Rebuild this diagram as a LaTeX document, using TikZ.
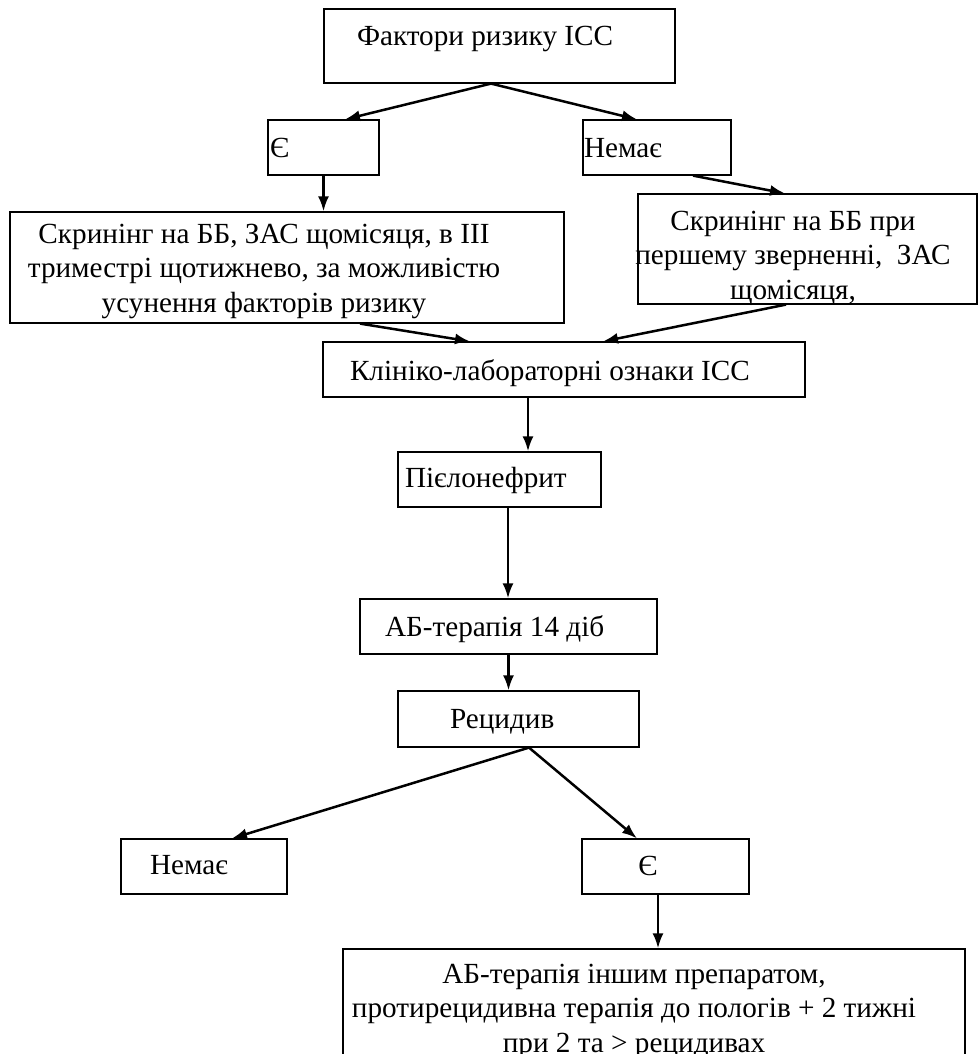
\documentclass[tikz,border=0pt]{standalone}
\usepackage{fontspec}
\setmainfont{Liberation Serif}
\usetikzlibrary{arrows.meta}
\newcommand\bL[3]{\raisebox{#2}[0pt][0pt]{\makebox[0pt][l]{\hspace*{#1}#3}}}
\newcommand\bC[3]{\raisebox{#2}[0pt][0pt]{\makebox[0pt][c]{\hspace*{#1}\hspace*{#1}#3}}}
\newcommand\ml[1]{\begin{tabular}[t]{@{}c@{}}#1\end{tabular}}
\tikzset{
  box/.style={draw=black, line width=1.2pt, inner sep=0pt, font=\fontsize{29.2}{34.5}\selectfont},
  arr/.style={line width=2.5pt, -{Latex[length=15pt,width=11pt]}}
}
\begin{document}
\begin{tikzpicture}[x=1pt,y=-1pt]
\useasboundingbox (0,0) rectangle (978,1054);
\clip (0,0) rectangle (978,1054);
\node[box, minimum width=351pt, minimum height=74pt] (top) at (499.5,46) {\bL{-142.5pt}{0pt}{Фактори ризику ІСС}};
\node[box, minimum width=111pt, minimum height=55pt] (ye1) at (323.5,147.5) {\bL{-53.5pt}{-9.5pt}{Є}};
\node[box, minimum width=148pt, minimum height=55pt] (ne1) at (657,147.5) {\bL{-73pt}{-9.5pt}{Немає}};
\node[box, minimum width=554pt, minimum height=111pt] (scrL) at (287,267.5) {\bC{-23pt}{24.5pt}{\ml{Скринінг на ББ, ЗАС щомісяця, в ІІІ\\триместрі щотижнево, за можливістю\\усунення факторів ризику}}};
\node[box, minimum width=339pt, minimum height=110pt] (scrR) at (807.5,249) {\bC{-14.5pt}{19pt}{\ml{Скринінг на ББ при\\першему зверненні, \ ЗАС\\щомісяця,}}};
\node[box, minimum width=482pt, minimum height=55pt] (klin) at (564,369.5) {\bL{-214pt}{-10.5pt}{Клініко-лабораторні ознаки ІСС}};
\node[box, minimum width=203pt, minimum height=55pt] (piel) at (499.5,479.5) {\bL{-94.5pt}{-7.5pt}{Пієлонефрит}};
\node[box, minimum width=297pt, minimum height=55pt] (ab) at (508.5,626.5) {\bL{-123.5pt}{-10pt}{АБ-терапія 14 діб}};
\node[box, minimum width=241pt, minimum height=56pt] (rec) at (518.5,719) {\bL{-68.5pt}{-9.5pt}{Рецидив}};
\node[box, minimum width=166pt, minimum height=55pt] (ne2) at (204,866.5) {\bL{-54pt}{-7.5pt}{Немає}};
\node[box, minimum width=167pt, minimum height=55pt] (ye2) at (665.5,866.5) {\bC{-17.5pt}{-8.5pt}{Є}};
\node[box, minimum width=622pt, minimum height=120pt] (fin) at (654,1009) {\bC{-20pt}{26pt}{\ml{АБ-терапія іншим препаратом,\\протирецидивна терапія до пологів + 2 тижні\\при 2 та > рецидивах}}};
\draw[arr] ([xshift=-8.5pt]top.south) -- ([xshift=21.5pt]ye1.north);
\draw[arr] ([xshift=-8.5pt]top.south) -- ([xshift=-20pt]ne1.north);
\draw[arr] (ye1.south) -- (ye1.south |- scrL.north);
\draw[arr] ([xshift=36pt]ne1.south) -- ([xshift=-22.5pt]scrR.north);
\draw[arr] ([xshift=73pt]scrL.south) -- ([xshift=-94pt]klin.north);
\draw[arr] ([xshift=-21.5pt]scrR.south) -- ([xshift=39pt]klin.north);
\draw[arr] ([xshift=-36pt]klin.south) -- ([xshift=28.5pt]piel.north);
\draw[arr] ([xshift=8.5pt]piel.south) -- ([xshift=-0.5pt]ab.north);
\draw[arr] (ab.south) -- ([xshift=-10pt]rec.north);
\draw[arr] ([xshift=10.5pt]rec.south) -- ([xshift=28pt]ne2.north);
\draw[arr] ([xshift=10.5pt]rec.south) -- ([xshift=-28.5pt]ye2.north);
\draw[arr] ([xshift=-7.5pt]ye2.south) -- ([xshift=4pt]fin.north);
\end{tikzpicture}
\end{document}
